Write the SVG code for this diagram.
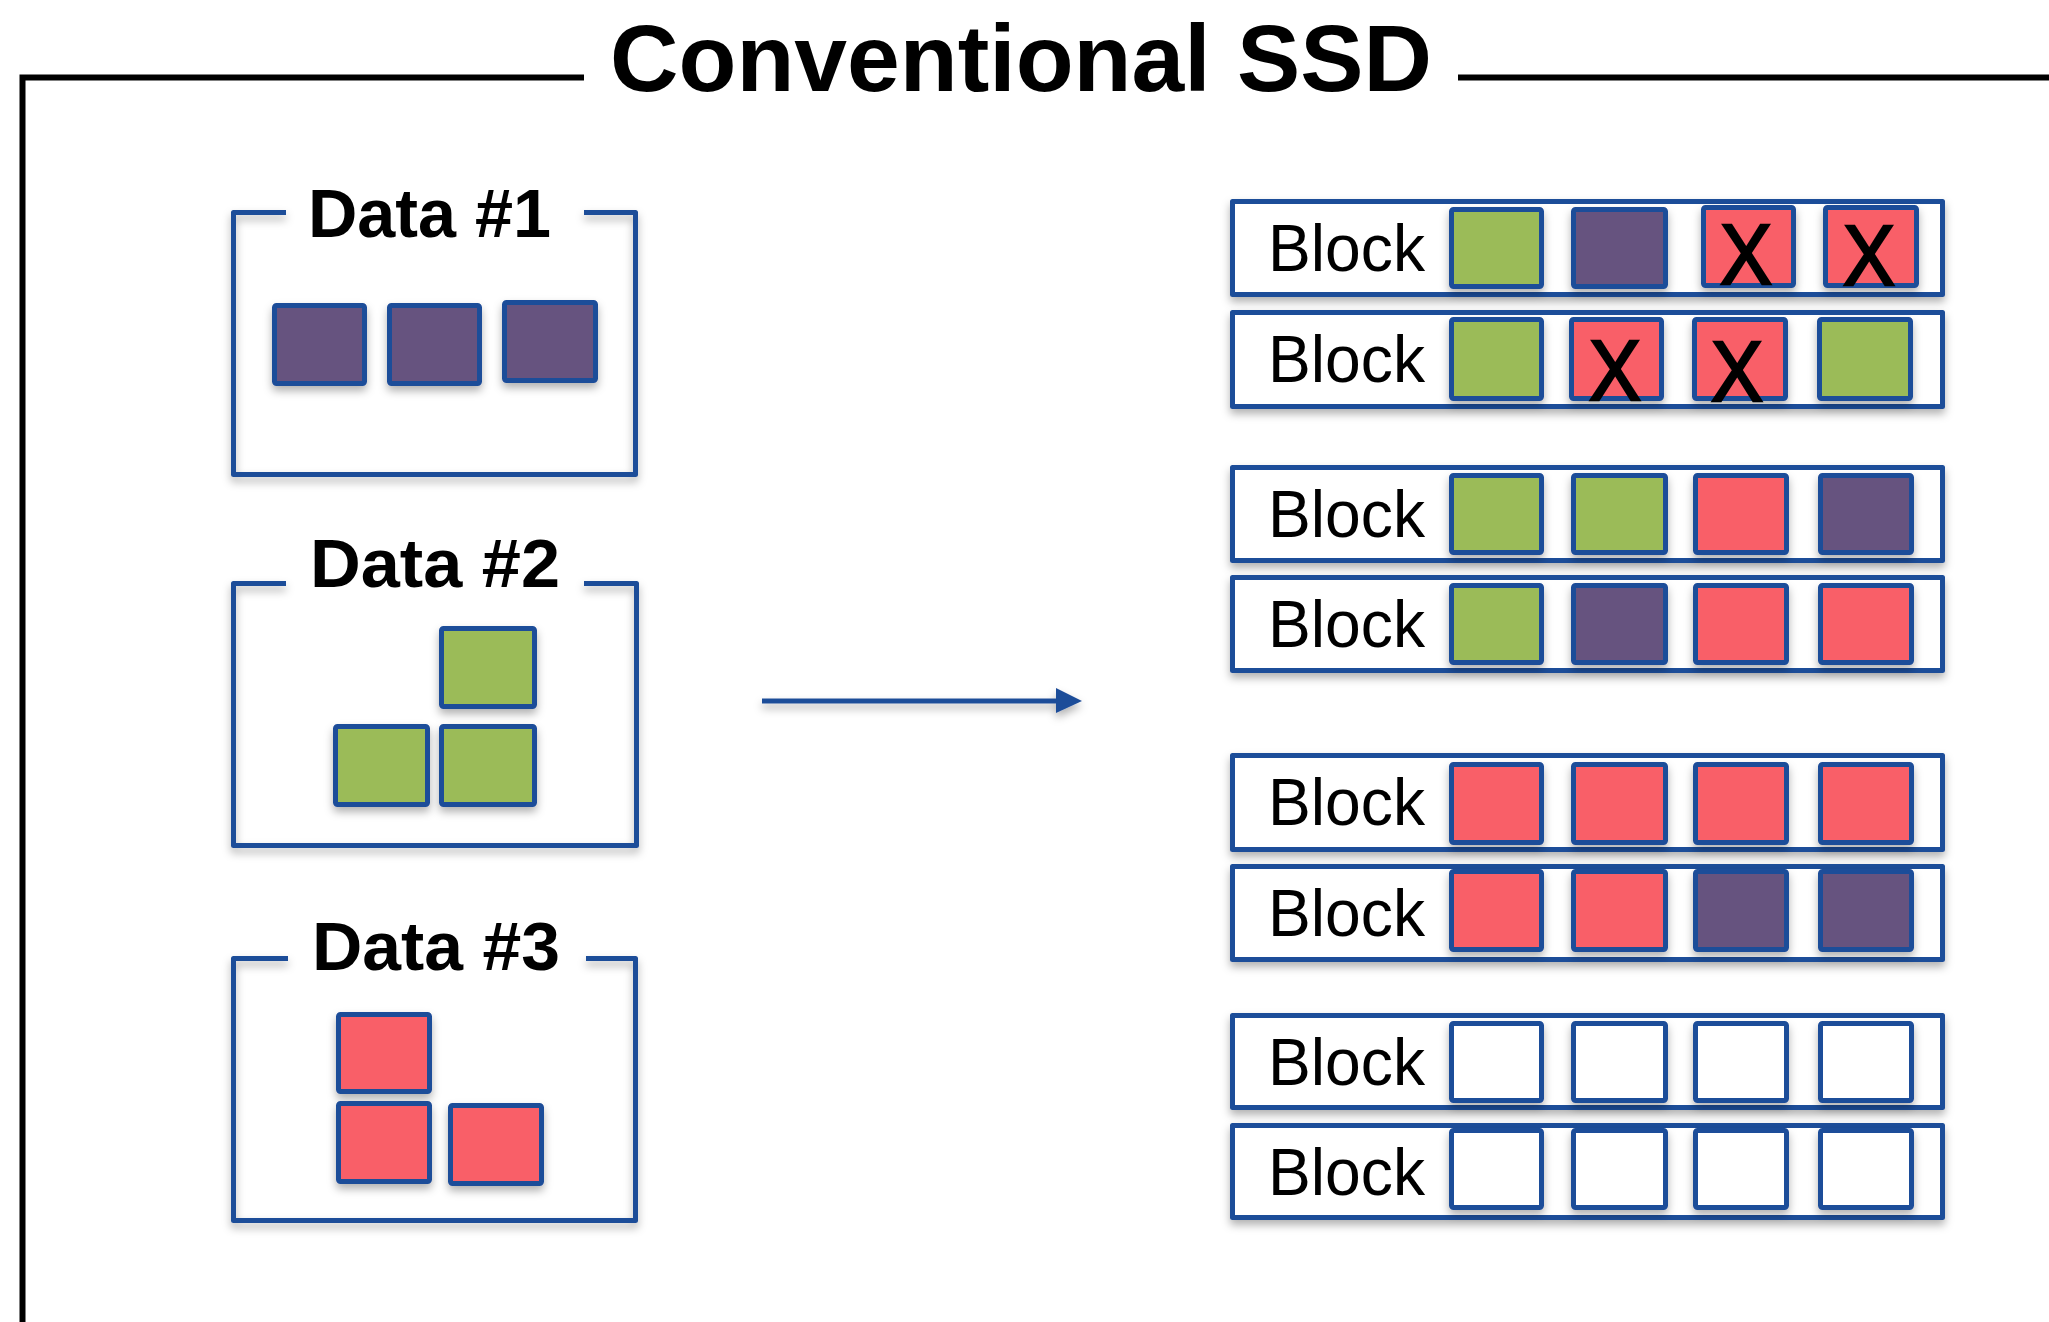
<svg xmlns="http://www.w3.org/2000/svg" width="2049" height="1322" viewBox="0 0 2049 1322">
<defs>
<filter id="sh" filterUnits="userSpaceOnUse" x="0" y="0" width="2049" height="1322">
<feDropShadow dx="0" dy="5" stdDeviation="4" flood-color="#000" flood-opacity="0.3"/>
</filter>
<style>
.frame{fill:none;stroke:#000;stroke-width:6}
.dbox{fill:none;stroke:#1F4E99;stroke-width:5;stroke-linejoin:round;filter:url(#sh)}
.row{fill:#fff;stroke:#1F4E99;stroke-width:5;stroke-linejoin:round;filter:url(#sh)}
.sq{stroke:#1F4E99;stroke-width:5;stroke-linejoin:round;filter:url(#sh)}
.p{fill:#66527F}.g{fill:#9BBB59}.r{fill:#F95F68}.w{fill:#fff}
.title{font-family:"Liberation Sans",Arial,sans-serif;font-weight:bold;font-size:95px;fill:#000}
.dt{font-family:"Liberation Sans",Arial,sans-serif;font-weight:bold;font-size:69px;fill:#000}
.bt{font-family:"Liberation Sans",Arial,sans-serif;font-size:67px;fill:#000}
.x{font-family:"Liberation Sans",Arial,sans-serif;font-size:85px;fill:#000;stroke:#000;stroke-width:2.5;text-anchor:middle}
.arrow{stroke:#1F4E99;stroke-width:5;fill:none}
</style>
</defs>
<rect width="2049" height="1322" fill="#fff"/>

<g id="frame">
<path class="frame" d="M584 77.5 H22.5 V1322"/>
<path class="frame" d="M1458 77.5 H2049"/>
<text class="title" x="610" y="91" textLength="822" lengthAdjust="spacingAndGlyphs">Conventional SSD</text>
</g>

<g id="data1">
<path class="dbox" d="M286 212.5 H233.5 V474.5 H635.5 V212.5 H584"/>
<text class="dt" x="308" y="237" textLength="243" lengthAdjust="spacingAndGlyphs">Data #1</text>
<rect class="sq p" x="274.5" y="305.5" width="90" height="78" rx="2"/>
<rect class="sq p" x="389.5" y="305.5" width="90" height="78" rx="2"/>
<rect class="sq p" x="504.5" y="302.5" width="91" height="78" rx="2"/>
</g>

<g id="data2">
<path class="dbox" d="M286 583.5 H233.5 V845.5 H636.5 V583.5 H584"/>
<text class="dt" x="310" y="587" textLength="250" lengthAdjust="spacingAndGlyphs">Data #2</text>
<rect class="sq g" x="441.5" y="628.5" width="93" height="78" rx="2"/>
<rect class="sq g" x="335.5" y="726.5" width="92" height="78" rx="2"/>
<rect class="sq g" x="441.5" y="726.5" width="93" height="78" rx="2"/>
</g>

<g id="data3">
<path class="dbox" d="M288 958.5 H233.5 V1220.5 H635.5 V958.5 H586"/>
<text class="dt" x="312" y="970" textLength="248" lengthAdjust="spacingAndGlyphs">Data #3</text>
<rect class="sq r" x="338.5" y="1014.5" width="91" height="77" rx="2"/>
<rect class="sq r" x="338.5" y="1103.5" width="91" height="78" rx="2"/>
<rect class="sq r" x="450.5" y="1105.5" width="91" height="78" rx="2"/>
</g>

<g id="connectors" filter="url(#sh)">
<line class="arrow" x1="762" y1="701" x2="1058" y2="701"/>
<polygon points="1056,688 1082,701 1056,713" fill="#1F4E99"/>
</g>

<g id="block1">
<rect class="row" x="1232.5" y="201.5" width="710" height="93"/>
<text class="bt" x="1268" y="271" textLength="157" lengthAdjust="spacingAndGlyphs">Block</text>
<rect class="sq g" x="1451.5" y="209.5" width="90" height="77" rx="2"/>
<rect class="sq p" x="1573.5" y="209.5" width="92" height="77" rx="2"/>
<rect class="sq r" x="1703.5" y="207.5" width="90" height="78" rx="2"/>
<rect class="sq r" x="1825.5" y="207.5" width="91" height="78" rx="2"/>
<text class="x" x="1746" y="284" textLength="52" lengthAdjust="spacingAndGlyphs">X</text>
<text class="x" x="1869" y="285" textLength="52" lengthAdjust="spacingAndGlyphs">X</text>
</g>

<g id="block2">
<rect class="row" x="1232.5" y="312.5" width="710" height="94"/>
<text class="bt" x="1268" y="382" textLength="157" lengthAdjust="spacingAndGlyphs">Block</text>
<rect class="sq g" x="1451.5" y="319.5" width="90" height="79" rx="2"/>
<rect class="sq r" x="1571.5" y="319.5" width="90" height="79" rx="2"/>
<rect class="sq r" x="1694.5" y="319.5" width="91" height="79" rx="2"/>
<rect class="sq g" x="1819.5" y="319.5" width="91" height="79" rx="2"/>
<text class="x" x="1615" y="400" textLength="52" lengthAdjust="spacingAndGlyphs">X</text>
<text class="x" x="1737" y="401" textLength="52" lengthAdjust="spacingAndGlyphs">X</text>
</g>

<g id="block3">
<rect class="row" x="1232.5" y="467.5" width="710" height="93"/>
<text class="bt" x="1268" y="537" textLength="157" lengthAdjust="spacingAndGlyphs">Block</text>
<rect class="sq g" x="1451.5" y="475.5" width="90" height="77" rx="2"/>
<rect class="sq g" x="1573.5" y="475.5" width="92" height="77" rx="2"/>
<rect class="sq r" x="1695.5" y="475.5" width="91" height="77" rx="2"/>
<rect class="sq p" x="1820.5" y="475.5" width="91" height="77" rx="2"/>
</g>

<g id="block4">
<rect class="row" x="1232.5" y="577.5" width="710" height="93"/>
<text class="bt" x="1268" y="647" textLength="157" lengthAdjust="spacingAndGlyphs">Block</text>
<rect class="sq g" x="1451.5" y="585.5" width="90" height="77" rx="2"/>
<rect class="sq p" x="1573.5" y="585.5" width="92" height="77" rx="2"/>
<rect class="sq r" x="1695.5" y="585.5" width="91" height="77" rx="2"/>
<rect class="sq r" x="1820.5" y="585.5" width="91" height="77" rx="2"/>
</g>

<g id="block5">
<rect class="row" x="1232.5" y="755.5" width="710" height="94"/>
<text class="bt" x="1268" y="825" textLength="157" lengthAdjust="spacingAndGlyphs">Block</text>
<rect class="sq r" x="1451.5" y="764.5" width="90" height="78" rx="2"/>
<rect class="sq r" x="1573.5" y="764.5" width="92" height="78" rx="2"/>
<rect class="sq r" x="1695.5" y="764.5" width="91" height="78" rx="2"/>
<rect class="sq r" x="1820.5" y="764.5" width="91" height="78" rx="2"/>
</g>

<g id="block6">
<rect class="row" x="1232.5" y="866.5" width="710" height="93"/>
<text class="bt" x="1268" y="936" textLength="157" lengthAdjust="spacingAndGlyphs">Block</text>
<rect class="sq r" x="1451.5" y="871.5" width="90" height="78" rx="2"/>
<rect class="sq r" x="1573.5" y="871.5" width="92" height="78" rx="2"/>
<rect class="sq p" x="1695.5" y="871.5" width="91" height="78" rx="2"/>
<rect class="sq p" x="1820.5" y="871.5" width="91" height="78" rx="2"/>
</g>

<g id="block7">
<rect class="row" x="1232.5" y="1015.5" width="710" height="92"/>
<text class="bt" x="1268" y="1085" textLength="157" lengthAdjust="spacingAndGlyphs">Block</text>
<rect class="sq w" x="1451.5" y="1023.5" width="90" height="77" rx="2"/>
<rect class="sq w" x="1573.5" y="1023.5" width="92" height="77" rx="2"/>
<rect class="sq w" x="1695.5" y="1023.5" width="91" height="77" rx="2"/>
<rect class="sq w" x="1820.5" y="1023.5" width="91" height="77" rx="2"/>
</g>

<g id="block8">
<rect class="row" x="1232.5" y="1125.5" width="710" height="92"/>
<text class="bt" x="1268" y="1195" textLength="157" lengthAdjust="spacingAndGlyphs">Block</text>
<rect class="sq w" x="1451.5" y="1130.5" width="90" height="77" rx="2"/>
<rect class="sq w" x="1573.5" y="1130.5" width="92" height="77" rx="2"/>
<rect class="sq w" x="1695.5" y="1130.5" width="91" height="77" rx="2"/>
<rect class="sq w" x="1820.5" y="1130.5" width="91" height="77" rx="2"/>
</g>
</svg>
